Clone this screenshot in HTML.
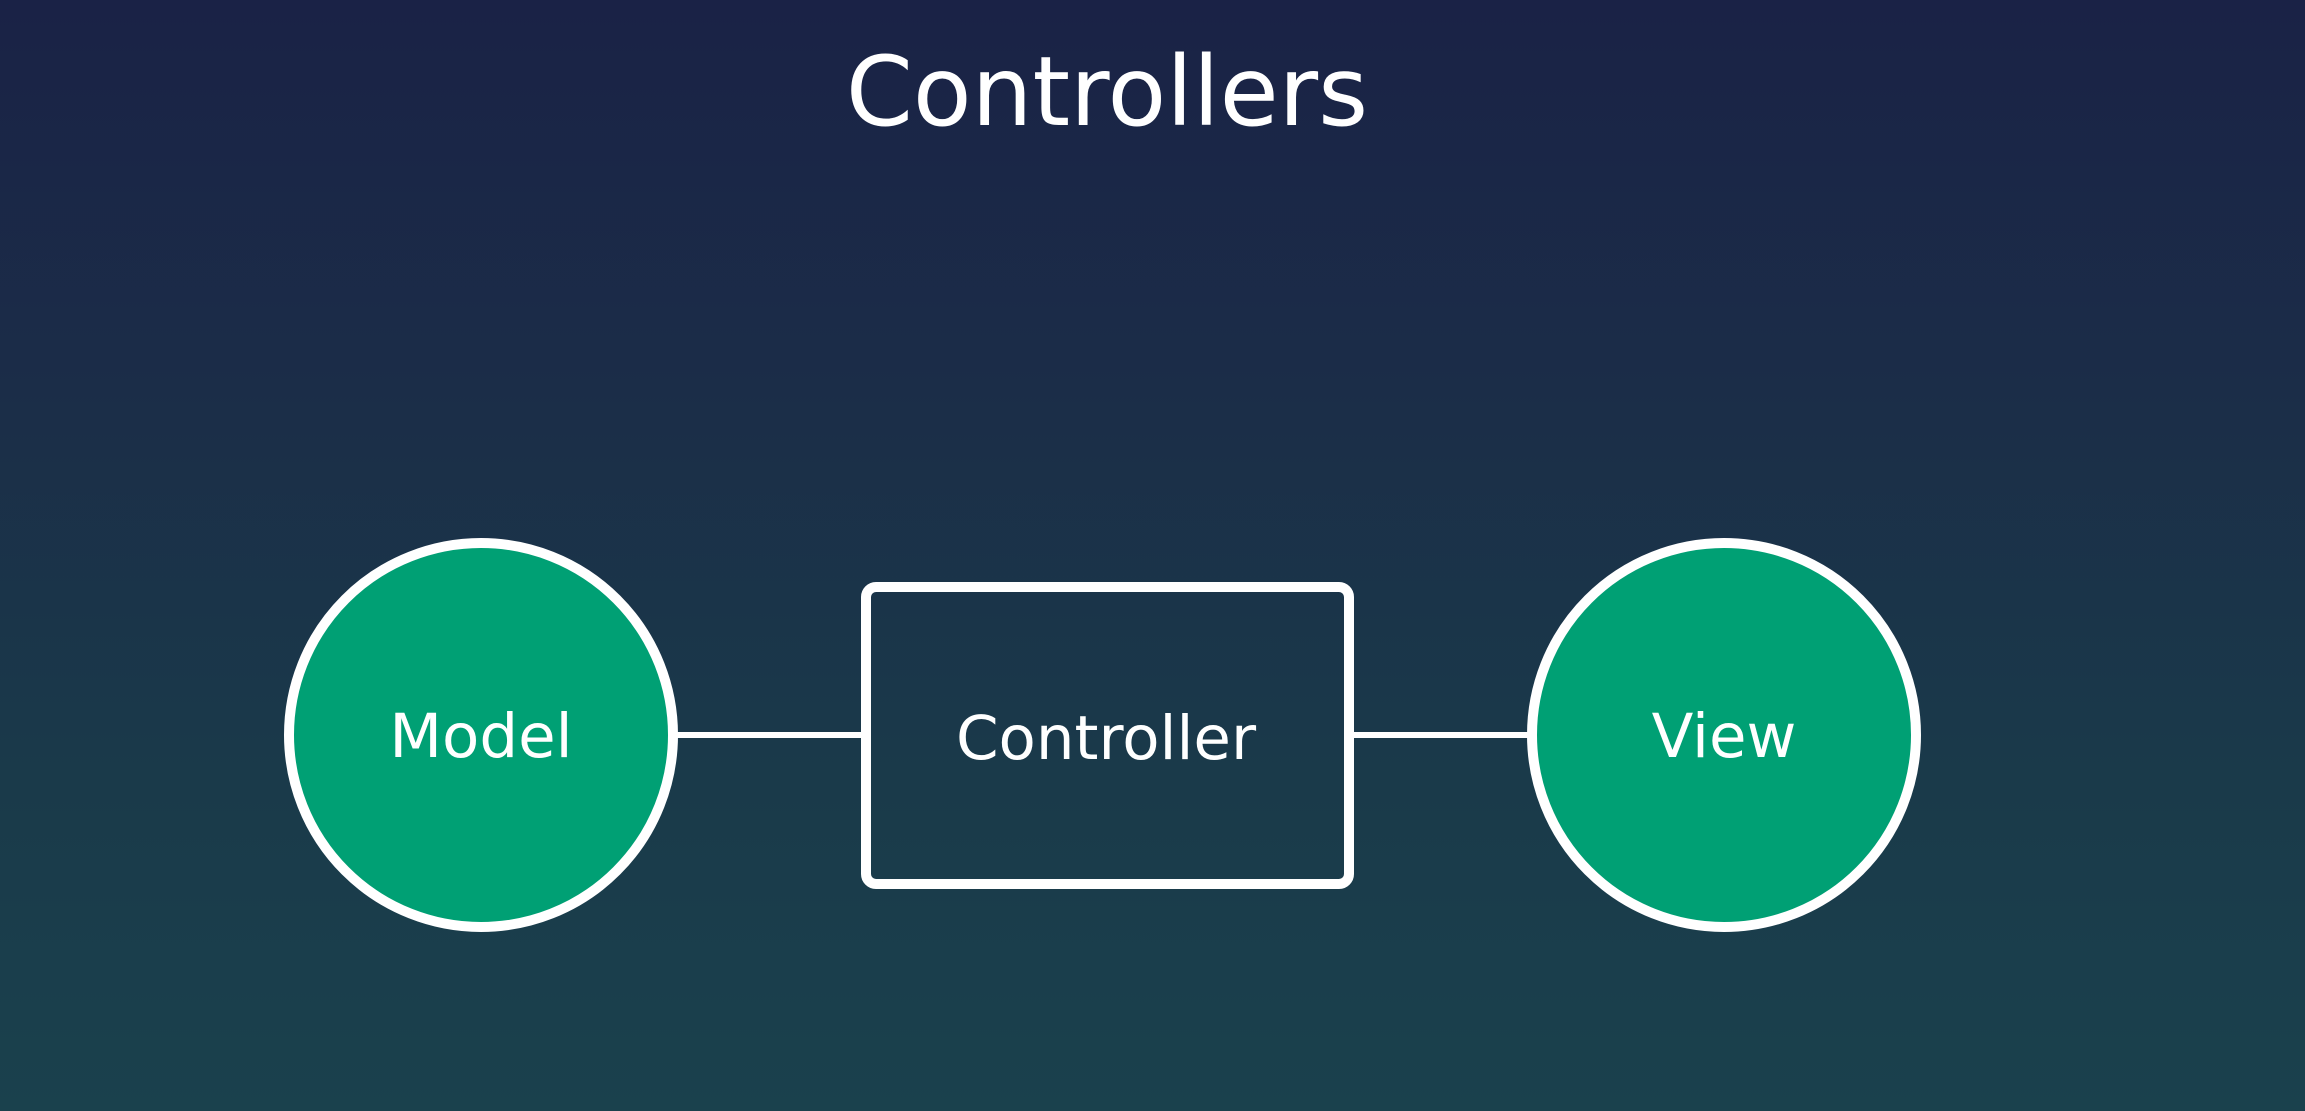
<!DOCTYPE html>
<html><head><meta charset="utf-8"><style>
html,body{margin:0;padding:0}
body{width:2305px;height:1111px;overflow:hidden;background:linear-gradient(180deg,#1a2246 0%,#1b2d48 35%,#1a3a4a 70%,#1a414d 100%);font-family:"DejaVu Sans","Liberation Sans",sans-serif}
svg{display:block}
</style></head><body>
<svg width="2305" height="1111" viewBox="0 0 2305 1111" xmlns="http://www.w3.org/2000/svg">
<text x="1107" y="125" text-anchor="middle" fill="#ffffff" font-size="96" font-family="DejaVu Sans, Liberation Sans, sans-serif">Controllers</text>
<line x1="672" y1="735" x2="866" y2="735" stroke="#fff" stroke-width="6"/>
<line x1="1350" y1="735" x2="1535" y2="735" stroke="#fff" stroke-width="6"/>
<circle cx="481" cy="735" r="192" fill="#00a074" stroke="#fff" stroke-width="10"/>
<circle cx="1724" cy="735" r="192" fill="#00a074" stroke="#fff" stroke-width="10"/>
<rect x="866" y="587" width="483" height="297" rx="10" fill="none" stroke="#fff" stroke-width="10"/>
<text x="481" y="757" text-anchor="middle" fill="#fff" font-size="61" font-family="DejaVu Sans, Liberation Sans, sans-serif">Model</text>
<text x="1106" y="759" text-anchor="middle" fill="#fff" font-size="61" font-family="DejaVu Sans, Liberation Sans, sans-serif">Controller</text>
<text x="1724" y="757" text-anchor="middle" fill="#fff" font-size="61" font-family="DejaVu Sans, Liberation Sans, sans-serif">View</text>
</svg>
</body></html>
